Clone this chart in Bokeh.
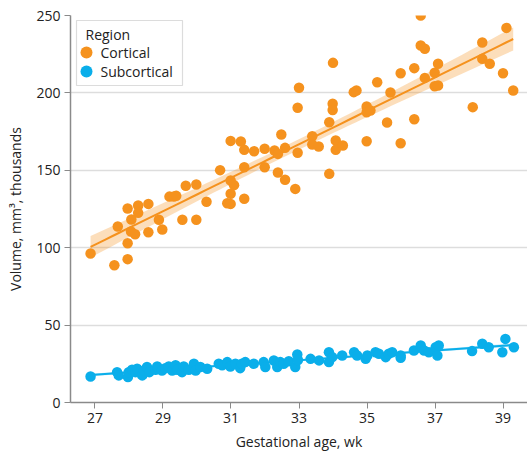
import numpy as np
from bokeh.plotting import figure
from bokeh.models import Range1d, FixedTicker, BoxAnnotation, Label
from bokeh.embed import file_html
from bokeh.resources import INLINE

# ---- data ----
cortical_wk = [26.87, 27.57, 27.96, 27.96, 27.67, 27.96, 28.27, 28.27, 28.07, 28.06,
               28.18, 28.57, 28.57, 28.88, 28.98, 29.19, 29.32, 29.39, 29.67, 29.98,
               30.28, 29.57, 29.98, 30.68, 30.99, 31.29, 31.39, 30.99, 31.09, 30.99,
               30.89, 30.99, 31.39, 31.39, 31.68, 31.99, 31.99, 32.28, 32.38, 32.48,
               32.59, 32.38, 32.59, 32.89, 32.96, 32.96, 33.00, 33.99, 33.99, 33.89,
               34.00, 33.39, 33.39, 33.58, 34.08, 34.08, 34.29, 33.89, 34.61, 34.69,
               34.99, 34.99, 35.10, 35.59, 34.99, 35.30, 35.69, 35.99, 35.99, 36.39,
               36.39, 36.58, 36.58, 36.70, 36.70, 36.99, 37.09, 36.99, 37.09, 38.11,
               38.39, 38.39, 38.61, 39.00, 39.10, 39.30]
cortical_vol = [96.3, 88.7, 92.6, 102.9, 113.7, 125.3, 127.3, 122.5, 118.2, 110.5,
                108.7, 128.3, 110.0, 118.0, 111.8, 133.0, 133.0, 133.5, 140.0, 140.8,
                129.7, 118.0, 118.0, 150.1, 169.0, 168.6, 163.2, 143.4, 140.4, 134.8,
                128.7, 128.3, 152.0, 131.6, 162.3, 163.9, 152.0, 162.8, 160.6, 173.1,
                164.5, 148.6, 143.9, 138.0, 161.3, 190.4, 203.3, 193.0, 189.0, 181.0,
                219.4, 172.0, 166.7, 165.4, 169.3, 163.2, 166.0, 147.7, 200.5, 201.6,
                191.2, 187.5, 188.6, 180.9, 168.8, 206.9, 200.3, 212.7, 167.5, 216.0,
                183.0, 250.0, 230.6, 228.5, 209.7, 213.0, 218.8, 204.3, 204.8, 190.8,
                232.6, 222.0, 218.8, 212.7, 242.0, 201.6]

subcortical_wk = [26.87, 27.65, 27.70, 27.97, 27.99, 28.09, 28.19, 28.24, 28.39, 28.44,
                  28.53, 28.60, 28.78, 28.83, 28.97, 29.07, 29.17, 29.27, 29.37, 29.42,
                  29.56, 29.61, 29.76, 29.91, 29.96, 30.10, 30.30, 30.64, 30.74, 30.89,
                  30.98, 31.13, 31.27, 31.32, 31.42, 31.67, 31.96, 32.01, 32.26, 32.36,
                  32.45, 32.55, 32.70, 32.89, 32.95, 32.97, 33.34, 33.59, 33.88, 33.88,
                  33.98, 34.27, 34.62, 34.71, 34.96, 35.01, 35.25, 35.35, 35.55, 35.64,
                  35.74, 35.99, 35.99, 36.38, 36.58, 36.68, 36.82, 37.02, 37.07, 37.11,
                  38.09, 38.39, 38.58, 38.98, 39.07, 39.32]
subcortical_vol = [16.8, 19.6, 17.5, 16.4, 19.6, 21.1, 19.6, 21.8, 17.5, 20.7,
                   22.9, 19.6, 21.1, 23.3, 20.7, 22.2, 23.3, 20.7, 24.1, 21.1,
                   19.6, 23.3, 21.1, 25.0, 20.7, 22.9, 21.8, 25.0, 24.0, 26.1,
                   23.3, 25.0, 22.2, 25.0, 26.1, 25.0, 26.1, 22.9, 27.1, 22.9,
                   26.1, 25.0, 26.7, 22.9, 31.0, 27.5, 28.2, 27.2, 32.5, 26.1,
                   29.3, 30.4, 32.5, 30.4, 28.2, 30.4, 32.5, 31.5, 29.3, 31.5,
                   32.5, 30.4, 28.9, 33.6, 36.8, 33.6, 32.5, 35.7, 30.4, 36.8,
                   33.2, 37.9, 35.7, 32.5, 41.1, 35.7]

series_names = ["Cortical", "Subcortical"]
legend_title = "Region"
x_ticks = [27, 29, 31, 33, 35, 37, 39]
y_ticks = [0, 50, 100, 150, 200, 250]

ORANGE = "#F5921E"
BLUE = "#0AAEEA"
FONT = "Open Sans"
TXT = "#222222"


def fit(x, y, npts=60):
    x = np.asarray(x, float)
    y = np.asarray(y, float)
    b, a = np.polyfit(x, y, 1)
    xs = np.linspace(x.min(), x.max(), npts)
    yh = a + b * xs
    n = len(x)
    s = np.sqrt(np.sum((y - (a + b * x)) ** 2) / (n - 2))
    se = s * np.sqrt(1.0 / n + (xs - x.mean()) ** 2 / np.sum((x - x.mean()) ** 2))
    return xs, yh, yh - 1.99 * se, yh + 1.99 * se


p = figure(width=527, height=453, output_backend="svg", toolbar_location=None,
           x_range=Range1d(26.28, 39.72), y_range=Range1d(0, 250),
           min_border_left=70, min_border_right=0, min_border_top=15,
           min_border_bottom=51)
p.outline_line_color = None
p.background_fill_color = "white"
p.border_fill_color = "white"

# fits
for wk, vol, col in [(cortical_wk, cortical_vol, ORANGE),
                     (subcortical_wk, subcortical_vol, BLUE)]:
    xs, yh, lo, hi = fit(wk, vol)
    p.varea(x=xs, y1=lo, y2=hi, fill_color=col, fill_alpha=0.3)
    p.line(xs, yh, line_color=col, line_width=2)

p.scatter(cortical_wk, cortical_vol, size=10.5, fill_color=ORANGE,
          line_color=ORANGE, line_width=0)
p.scatter(subcortical_wk, subcortical_vol, size=10.5, fill_color=BLUE,
          line_color=BLUE, line_width=0)

# axes
p.xaxis.ticker = FixedTicker(ticks=x_ticks)
p.yaxis.ticker = FixedTicker(ticks=y_ticks)
p.xaxis.minor_tick_line_color = None
p.yaxis.minor_tick_line_color = None
for ax in (p.xaxis, p.yaxis):
    ax.axis_line_color = "#8a8a8a"
    ax.axis_line_width = 1.5
    ax.major_tick_line_color = "#8a8a8a"
    ax.major_tick_in = 0
    ax.major_tick_out = 6
    ax.major_label_text_font = FONT
    ax.major_label_text_font_size = "14px"
    ax.major_label_text_color = TXT
    ax.axis_label_text_font = FONT
    ax.axis_label_text_font_size = "14px"
    ax.axis_label_text_font_style = "normal"
    ax.axis_label_text_color = TXT
p.xaxis.axis_label = "Gestational age, wk"
p.yaxis.axis_label = "Volume, mm³, thousands"
p.xaxis.major_label_standoff = 4
p.yaxis.major_label_standoff = 4
p.xaxis.axis_label_standoff = 6
p.yaxis.axis_label_standoff = 8

p.xgrid.grid_line_color = None
p.ygrid.grid_line_color = "#dddddd"
p.ygrid.grid_line_width = 1.5

# legend (screen units, measured from frame bottom-left)
p.add_layout(BoxAnnotation(left=6, right=112, top=382, bottom=317,
                           left_units="screen", right_units="screen",
                           top_units="screen", bottom_units="screen",
                           fill_color="white", fill_alpha=1.0,
                           line_color="#8a8a8a", line_width=1.2))
p.add_layout(Label(x=15, y=368, x_units="screen", y_units="screen",
                   text=legend_title, text_font=FONT, text_font_size="14px",
                   text_color=TXT, text_baseline="middle"))
for i, (name, col) in enumerate(zip(series_names, [ORANGE, BLUE])):
    cy = 350 - 19 * i
    p.add_layout(BoxAnnotation(left=10, right=22, top=cy + 6, bottom=cy - 6,
                               left_units="screen", right_units="screen",
                               top_units="screen", bottom_units="screen",
                               fill_color=col, fill_alpha=1.0, line_color=None,
                               border_radius=6))
    p.add_layout(Label(x=30, y=cy, x_units="screen", y_units="screen",
                       text=name, text_font=FONT, text_font_size="14px",
                       text_color=TXT, text_baseline="middle"))

open("out.html", "w").write(file_html(p, INLINE))
